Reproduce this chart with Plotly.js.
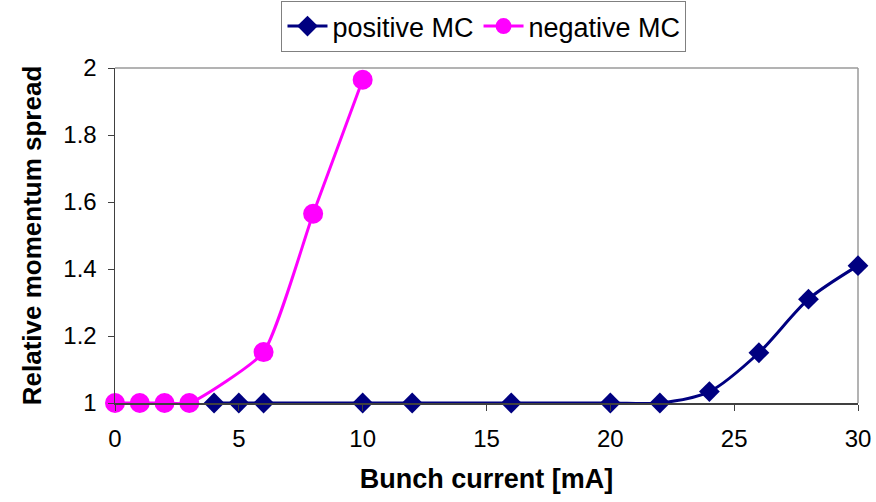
<!DOCTYPE html>
<html>
<head>
<meta charset="utf-8">
<script src="https://cdn.plot.ly/plotly-3.0.1.min.js"></script>
<style>
  html, body { margin: 0; padding: 0; background: #ffffff; }
  #chart { width: 876px; height: 502px; }
</style>
</head>
<body>
<div id="chart"></div>
<script>
// Bunch current (mA) and relative momentum spread for each momentum compaction sign
const positiveCurrent = [4, 5, 6, 10, 12, 16, 20, 22, 24, 26, 28, 30];
const positiveSpread  = [1.0, 1.0, 1.0, 1.0, 1.0, 1.0, 1.0, 1.0, 1.034, 1.15, 1.31, 1.41];

const negativeCurrent = [0, 1, 2, 3, 6, 8, 10];
const negativeSpread  = [1.0, 1.0, 1.0, 1.0, 1.152, 1.565, 1.965];

const xTicks = [0, 5, 10, 15, 20, 25, 30];
const yTicks = [1, 1.2, 1.4, 1.6, 1.8, 2];
const yTickText = ['1', '1.2', '1.4', '1.6', '1.8', '2'];

const FONT = 'Liberation Sans, Arial, sans-serif';

const traces = [
  {
    name: 'positive MC',
    x: positiveCurrent,
    y: positiveSpread,
    mode: 'lines+markers',
    line: { color: '#000080', width: 3, shape: 'spline', smoothing: 0.8 },
    marker: { symbol: 'diamond', size: 16, color: '#000080' },
    cliponaxis: false
  },
  {
    name: 'negative MC',
    x: negativeCurrent,
    y: negativeSpread,
    mode: 'lines+markers',
    line: { color: '#FF00FF', width: 3, shape: 'spline', smoothing: 0.5 },
    marker: { symbol: 'circle', size: 20, color: '#FF00FF' },
    cliponaxis: false
  }
];

const layout = {
  width: 876,
  height: 502,
  margin: { l: 115, r: 18, t: 68, b: 99 },
  paper_bgcolor: '#ffffff',
  plot_bgcolor: '#ffffff',
  font: { family: FONT, color: '#000000', size: 24 },
  showlegend: true,
  legend: {
    orientation: 'h',
    xref: 'container',
    yref: 'container',
    x: 0.5525, xanchor: 'center',
    y: 0.998, yanchor: 'top',
    bgcolor: '#ffffff',
    bordercolor: '#808080',
    borderwidth: 1,
    font: { family: FONT, size: 27, color: '#000000' },
    itemwidth: 40,
    tracegroupgap: 0
  },
  xaxis: {
    range: [0, 30],
    tickvals: xTicks,
    ticktext: xTicks.map(String),
    ticks: 'outside',
    ticklen: 6,
    tickcolor: '#404040',
    tickwidth: 1,
    ticklabelstandoff: 8,
    showgrid: false,
    zeroline: false,
    showline: true,
    linecolor: '#404040',
    linewidth: 1.5,
    tickfont: { family: FONT, size: 24, color: '#000000' },
    title: {
      text: 'Bunch current [mA]',
      font: { family: FONT, size: 27, color: '#000000', weight: 'bold' },
      standoff: 18
    }
  },
  yaxis: {
    range: [1, 2],
    tickvals: yTicks,
    ticktext: yTickText,
    ticks: 'outside',
    ticklen: 6,
    tickcolor: '#404040',
    tickwidth: 1,
    ticklabelstandoff: 6,
    showgrid: false,
    zeroline: false,
    showline: true,
    linecolor: '#404040',
    linewidth: 1.5,
    tickfont: { family: FONT, size: 24, color: '#000000' },
    title: {
      text: 'Relative momentum spread',
      font: { family: FONT, size: 26, color: '#000000', weight: 'bold' },
      standoff: 14
    }
  },
  shapes: [
    // light frame on the top and right of the plotting area
    { type: 'line', xref: 'x domain', yref: 'y domain', x0: 0, x1: 1, y0: 1, y1: 1,
      line: { color: '#9a9a9a', width: 1.5 }, layer: 'below' },
    { type: 'line', xref: 'x domain', yref: 'y domain', x0: 1, x1: 1, y0: 0, y1: 1,
      line: { color: '#9a9a9a', width: 1.5 }, layer: 'below' }
  ]
};

Plotly.newPlot('chart', traces, layout, { displayModeBar: false, staticPlot: true });
</script>
</body>
</html>
